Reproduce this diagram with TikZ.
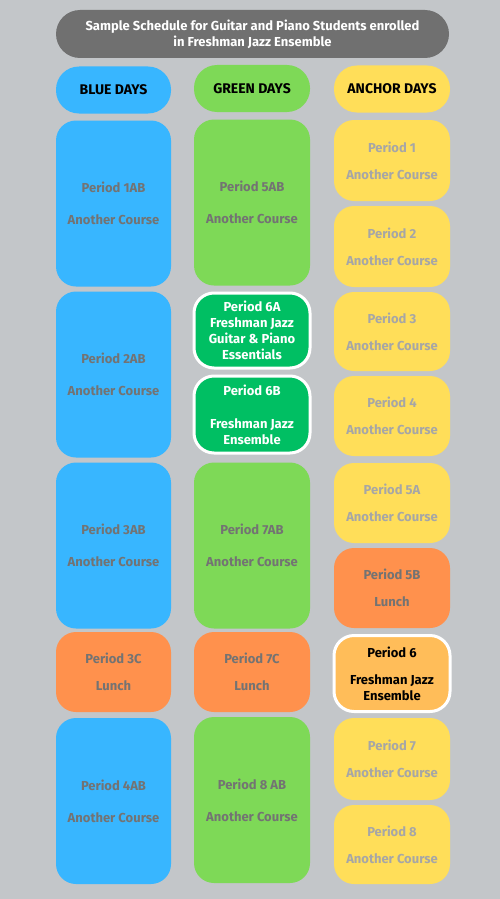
\documentclass[tikz,border=0pt]{standalone}
\usepackage{fontspec}
\setmainfont{Fira Sans}
\usepackage{xcolor}
\usepackage{tikz}
\definecolor{bggray}{HTML}{C3C6C9}
\definecolor{titlegray}{HTML}{707070}
\definecolor{blueday}{HTML}{38B6FF}
\definecolor{greenday}{HTML}{7ED957}
\definecolor{anchorday}{HTML}{FFDE59}
\definecolor{lunch}{HTML}{FF914D}
\definecolor{jazzgreen}{HTML}{00BF63}
\definecolor{jazzorange}{HTML}{FFBD59}
\definecolor{darktext}{HTML}{737373}
\definecolor{lighttext}{HTML}{A6A6A6}
\tikzset{every picture/.style={x=1pt,y=-1pt},
  slot/.style={rectangle, rounded corners=20pt, minimum width=116pt, inner sep=0pt,
    align=center, font=\bfseries\fontsize{13}{16}\selectfont},
  tall/.style={slot, minimum height=166pt},
  short/.style={slot, minimum height=80pt},
  head/.style={slot, rounded corners=23pt, minimum height=47pt, text=black,
    font=\bfseries\fontsize{14}{16}\selectfont},
  bluebox/.style={fill=blueday, text=darktext},
  greenbox/.style={fill=greenday, text=darktext},
  anchorbox/.style={fill=anchorday, text=lighttext},
  lunchbox/.style={fill=lunch, text=darktext},
  marked/.style={draw=white, line width=3pt}}

\begin{document}
\begin{tikzpicture}
        \fill[bggray] (0,0) rectangle (500,899);
        \node[slot, fill=titlegray, text=white, rounded corners=24pt, minimum width=393pt, minimum height=48pt] (title) at (252.5, 34) {Sample Schedule for Guitar and Piano Students enrolled\\in Freshman Jazz Ensemble};

        % blue days
        \node[head, fill=blueday, minimum width=115pt] (hblue) at (113.5, 90) {BLUE DAYS};
        \node[tall, bluebox, minimum width=115pt] (b1) at (113.5, 203.5) {Period 1AB\\[16pt]Another Course};
        \node[tall, bluebox, minimum width=115pt] (b2) at (113.5, 374.5) {Period 2AB\\[16pt]Another Course};
        \node[tall, bluebox, minimum width=115pt] (b3) at (113.5, 545.5) {Period 3AB\\[16pt]Another Course};
        \node[short, lunchbox, minimum width=115pt] (b3c) at (113.5, 672) {Period 3C\\[11pt]Lunch};
        \node[tall, bluebox, minimum width=115pt] (b4) at (113.5, 801) {Period 4AB\\[16pt]Another Course};

        % green days
        \node[head, fill=greenday] (hgreen) at (252, 88.5) {GREEN DAYS};
        \node[tall, greenbox] (g5) at (252, 202.5) {Period 5AB\\[16pt]Another Course};
        \node[short, marked, fill=jazzgreen, text=white, minimum height=75pt] (g6a) at (252, 330.5) {Period 6A\\Freshman Jazz\\Guitar \& Piano\\Essentials};
        \node[short, marked, fill=jazzgreen, text=white, minimum height=77pt] (g6b) at (252, 414.5) {Period 6B\\[17pt]Freshman Jazz\\Ensemble};
        \node[tall, greenbox] (g7) at (252, 545.5) {Period 7AB\\[16pt]Another Course};
        \node[short, lunchbox] (g7c) at (252, 672) {Period 7C\\[11pt]Lunch};
        \node[tall, greenbox] (g8) at (252, 800) {Period 8 AB\\[16pt]Another Course};

        % anchor days
        \node[head, fill=anchorday] (hanchor) at (392, 89) {ANCHOR DAYS};
        \node[short, anchorbox, minimum height=81pt] (a1) at (392, 160.5) {Period 1\\[11pt]Another Course};
        \node[short, anchorbox, minimum height=81pt] (a2) at (392, 246.5) {Period 2\\[11pt]Another Course};
        \node[short, anchorbox, minimum height=79pt] (a3) at (392, 331.5) {Period 3\\[11pt]Another Course};
        \node[short, anchorbox] (a4) at (392, 416) {Period 4\\[11pt]Another Course};
        \node[short, anchorbox] (a5a) at (392, 503) {Period 5A\\[11pt]Another Course};
        \node[short, lunchbox] (a5b) at (392, 588) {Period 5B\\[11pt]Lunch};
        \node[short, marked, fill=jazzorange, text=black, minimum height=76pt] (a6) at (392, 673.5) {Period 6\\[11pt]Freshman Jazz\\Ensemble};
        \node[short, anchorbox, minimum height=82pt] (a7) at (392, 759) {Period 7\\[11pt]Another Course};
        \node[short, anchorbox, minimum height=79pt] (a8) at (392, 844.5) {Period 8\\[11pt]Another Course};
\end{tikzpicture}
\end{document}
